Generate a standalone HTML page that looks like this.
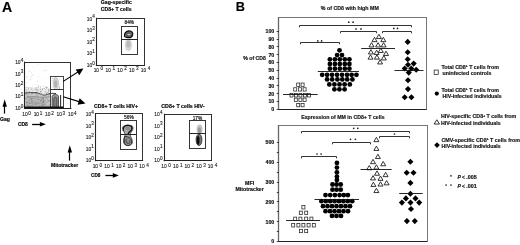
<!DOCTYPE html>
<html><head><meta charset="utf-8"><style>
html,body{margin:0;padding:0;background:#fff;width:520px;height:245px;overflow:hidden}
svg{display:block;will-change:transform;filter:blur(0.3px)}
text{font-family:"Liberation Sans", sans-serif}
text[font-weight=bold]{stroke:#111;stroke-width:0.16px}
</style></head><body>
<svg width="520" height="245" viewBox="0 0 520 245">
<rect width="520" height="245" fill="#fff"/>
<text x="2.0" y="12.2" font-size="14.2" font-weight="bold" textLength="10.2" lengthAdjust="spacingAndGlyphs" fill="#000">A</text>
<text x="235.8" y="11.1" font-size="13.0" font-weight="bold" textLength="9.2" lengthAdjust="spacingAndGlyphs" fill="#000">B</text>
<defs><radialGradient id="g1" cx="0.5" cy="0.5" r="0.5"><stop offset="0" stop-color="#777"/><stop offset="1" stop-color="#fff" stop-opacity="0"/></radialGradient><radialGradient id="g2" cx="0.5" cy="0.5" r="0.5"><stop offset="0" stop-color="#aaa"/><stop offset="1" stop-color="#fff" stop-opacity="0"/></radialGradient><linearGradient id="band" x1="0" y1="0" x2="0" y2="1"><stop offset="0" stop-color="#fff"/><stop offset="0.35" stop-color="#ccc"/><stop offset="1" stop-color="#999"/></linearGradient></defs>
<defs><filter id="bl" x="-20%" y="-20%" width="140%" height="140%"><feGaussianBlur stdDeviation="0.45"/></filter><filter id="bl2" x="-20%" y="-20%" width="140%" height="140%"><feGaussianBlur stdDeviation="0.9"/></filter></defs>
<g filter="url(#bl)">
<path d="M24.5 87.5 C30 87, 38 87.5, 46 88.5 L50.5 89 L50.5 108.5 L24.5 108.5 Z" fill="#ebebeb"/>
<path d="M24.5 93 C29 92.6, 33 92.4, 36 92.6 C39 93, 42 95, 44.2 95.2 C46.5 95.2, 48.5 93.6, 50.5 93.4 L50.5 108.5 L24.5 108.5 Z" fill="#c8c8c8"/>
<path d="M26 98 C30 96.5, 36 96.5, 40 97.5 C43 98.5, 45 100, 47 102 L47 106 L26 106 Z" fill="#b4b4b4"/>
<path d="M24.5 93 C29 92.6, 33 92.4, 36 92.6 C39 93, 42 95, 44.2 95.2 C46.5 95.2, 48.5 93.6, 50.5 93.4 C52 93.3, 54 93.6, 56 93.5" stroke="#333" stroke-width="0.9" fill="none"/>
<path d="M26.5 97.5 C31 96.3, 36 96.3, 40 97.2 C42 97.8, 43.5 98.5, 44.5 99" stroke="#777" stroke-width="0.6" fill="none"/>
<path d="M44.2 95.6 L49.5 101.5" stroke="#777" stroke-width="0.6"/>
<path d="M27 103 C32 102, 38 102.5, 44 104" stroke="#999" stroke-width="0.6" fill="none"/>
<g><circle cx="33.4" cy="67.3" r="0.36" fill="#ddd"/><circle cx="45.6" cy="66.1" r="0.36" fill="#ddd"/><circle cx="37.9" cy="64.8" r="0.43" fill="#bbb"/><circle cx="31.4" cy="76.1" r="0.52" fill="#ccc"/><circle cx="28.5" cy="68.9" r="0.47" fill="#ddd"/><circle cx="27.0" cy="76.9" r="0.55" fill="#ccc"/><circle cx="26.6" cy="82.9" r="0.43" fill="#bbb"/><circle cx="38.7" cy="76.6" r="0.51" fill="#ddd"/><circle cx="29.9" cy="76.8" r="0.39" fill="#ddd"/><circle cx="27.9" cy="79.7" r="0.36" fill="#ddd"/><circle cx="30.5" cy="79.0" r="0.51" fill="#bbb"/><circle cx="36.9" cy="84.3" r="0.41" fill="#bbb"/><circle cx="45.0" cy="79.4" r="0.37" fill="#ccc"/><circle cx="32.9" cy="74.9" r="0.50" fill="#bbb"/><circle cx="32.6" cy="85.6" r="0.45" fill="#ccc"/><circle cx="29.5" cy="71.5" r="0.43" fill="#bbb"/><circle cx="49.1" cy="65.7" r="0.46" fill="#ddd"/><circle cx="46.9" cy="70.9" r="0.42" fill="#ddd"/><circle cx="37.7" cy="81.5" r="0.52" fill="#ccc"/><circle cx="48.6" cy="74.4" r="0.36" fill="#ddd"/><circle cx="43.4" cy="70.8" r="0.55" fill="#ddd"/><circle cx="45.6" cy="70.3" r="0.53" fill="#bbb"/><circle cx="34.0" cy="84.7" r="0.38" fill="#bbb"/><circle cx="28.4" cy="65.3" r="0.38" fill="#bbb"/><circle cx="31.6" cy="72.6" r="0.37" fill="#bbb"/><circle cx="36.5" cy="89.8" r="0.51" fill="#999"/><circle cx="46.7" cy="87.9" r="0.55" fill="#888"/><circle cx="42.2" cy="88.7" r="0.38" fill="#999"/><circle cx="29.8" cy="87.6" r="0.35" fill="#999"/><circle cx="45.9" cy="87.3" r="0.35" fill="#bbb"/><circle cx="35.8" cy="88.6" r="0.54" fill="#bbb"/><circle cx="42.4" cy="89.6" r="0.44" fill="#aaa"/><circle cx="46.8" cy="92.7" r="0.43" fill="#888"/><circle cx="35.2" cy="89.4" r="0.36" fill="#888"/><circle cx="27.2" cy="87.5" r="0.37" fill="#999"/><circle cx="40.2" cy="86.7" r="0.46" fill="#999"/><circle cx="48.7" cy="90.3" r="0.52" fill="#aaa"/><circle cx="40.5" cy="87.0" r="0.54" fill="#bbb"/><circle cx="40.3" cy="89.3" r="0.52" fill="#aaa"/><circle cx="49.8" cy="89.3" r="0.41" fill="#888"/><circle cx="29.0" cy="91.2" r="0.45" fill="#bbb"/><circle cx="42.5" cy="89.6" r="0.54" fill="#999"/><circle cx="38.4" cy="87.0" r="0.50" fill="#aaa"/><circle cx="32.8" cy="90.5" r="0.49" fill="#aaa"/><circle cx="31.9" cy="88.6" r="0.42" fill="#999"/><circle cx="31.0" cy="89.8" r="0.48" fill="#bbb"/><circle cx="40.5" cy="91.5" r="0.51" fill="#999"/><circle cx="45.5" cy="91.2" r="0.39" fill="#999"/><circle cx="37.6" cy="91.1" r="0.51" fill="#aaa"/><circle cx="37.1" cy="87.4" r="0.44" fill="#bbb"/><circle cx="48.5" cy="92.9" r="0.37" fill="#bbb"/><circle cx="28.0" cy="89.3" r="0.39" fill="#bbb"/><circle cx="40.8" cy="92.3" r="0.45" fill="#aaa"/><circle cx="41.5" cy="91.6" r="0.52" fill="#aaa"/><circle cx="28.4" cy="88.7" r="0.45" fill="#999"/><circle cx="29.9" cy="91.5" r="0.37" fill="#bbb"/><circle cx="48.7" cy="91.1" r="0.43" fill="#888"/><circle cx="48.7" cy="91.1" r="0.55" fill="#999"/><circle cx="26.2" cy="90.1" r="0.51" fill="#888"/><circle cx="29.1" cy="91.8" r="0.48" fill="#888"/><circle cx="34.1" cy="89.8" r="0.35" fill="#999"/><circle cx="45.1" cy="91.1" r="0.46" fill="#aaa"/><circle cx="48.4" cy="89.0" r="0.52" fill="#999"/><circle cx="30.7" cy="87.8" r="0.45" fill="#bbb"/><circle cx="44.2" cy="88.3" r="0.52" fill="#888"/><circle cx="27.0" cy="91.2" r="0.48" fill="#888"/><circle cx="45.5" cy="89.6" r="0.46" fill="#999"/><circle cx="38.3" cy="86.1" r="0.51" fill="#888"/><circle cx="40.4" cy="91.4" r="0.38" fill="#999"/><circle cx="37.1" cy="91.1" r="0.42" fill="#aaa"/><circle cx="38.2" cy="89.9" r="0.53" fill="#aaa"/><circle cx="26.9" cy="87.3" r="0.50" fill="#aaa"/><circle cx="37.9" cy="89.9" r="0.44" fill="#aaa"/><circle cx="40.5" cy="89.5" r="0.49" fill="#999"/><circle cx="36.6" cy="89.7" r="0.45" fill="#888"/><circle cx="31.6" cy="89.7" r="0.53" fill="#bbb"/><circle cx="47.4" cy="87.4" r="0.38" fill="#888"/><circle cx="28.5" cy="89.1" r="0.48" fill="#aaa"/><circle cx="36.0" cy="87.5" r="0.51" fill="#bbb"/><circle cx="47.5" cy="87.1" r="0.38" fill="#bbb"/><circle cx="47.1" cy="92.8" r="0.50" fill="#999"/><circle cx="27.8" cy="92.2" r="0.55" fill="#999"/><circle cx="45.9" cy="87.1" r="0.55" fill="#888"/><circle cx="35.4" cy="88.9" r="0.41" fill="#bbb"/><circle cx="43.2" cy="86.1" r="0.44" fill="#888"/><circle cx="25.9" cy="97.6" r="0.41" fill="#aaa"/><circle cx="49.0" cy="94.6" r="0.54" fill="#888"/><circle cx="28.1" cy="96.7" r="0.53" fill="#777"/><circle cx="29.9" cy="103.6" r="0.52" fill="#666"/><circle cx="42.1" cy="106.2" r="0.38" fill="#666"/><circle cx="48.0" cy="101.0" r="0.37" fill="#999"/><circle cx="26.9" cy="102.6" r="0.53" fill="#666"/><circle cx="32.1" cy="93.2" r="0.51" fill="#777"/><circle cx="27.6" cy="105.0" r="0.40" fill="#777"/><circle cx="28.5" cy="93.2" r="0.43" fill="#aaa"/><circle cx="47.9" cy="101.7" r="0.46" fill="#777"/><circle cx="31.3" cy="94.5" r="0.40" fill="#888"/><circle cx="29.9" cy="106.1" r="0.46" fill="#999"/><circle cx="30.5" cy="99.2" r="0.40" fill="#888"/><circle cx="45.2" cy="106.9" r="0.35" fill="#777"/><circle cx="43.5" cy="100.7" r="0.45" fill="#888"/><circle cx="31.5" cy="99.3" r="0.48" fill="#666"/><circle cx="38.9" cy="105.4" r="0.41" fill="#aaa"/><circle cx="30.8" cy="96.2" r="0.52" fill="#888"/><circle cx="42.8" cy="101.9" r="0.55" fill="#666"/><circle cx="49.6" cy="104.7" r="0.36" fill="#777"/><circle cx="43.7" cy="96.6" r="0.36" fill="#888"/><circle cx="41.8" cy="98.3" r="0.48" fill="#aaa"/><circle cx="32.4" cy="96.4" r="0.36" fill="#999"/><circle cx="30.0" cy="96.8" r="0.40" fill="#777"/><circle cx="49.1" cy="106.6" r="0.41" fill="#aaa"/><circle cx="26.3" cy="105.4" r="0.42" fill="#888"/><circle cx="25.5" cy="98.3" r="0.41" fill="#666"/><circle cx="41.6" cy="96.5" r="0.37" fill="#777"/><circle cx="45.5" cy="95.0" r="0.36" fill="#aaa"/><circle cx="26.1" cy="97.3" r="0.37" fill="#888"/><circle cx="49.0" cy="104.9" r="0.48" fill="#888"/><circle cx="43.0" cy="105.3" r="0.50" fill="#666"/><circle cx="43.2" cy="99.9" r="0.49" fill="#999"/><circle cx="41.3" cy="93.6" r="0.48" fill="#aaa"/><circle cx="43.5" cy="104.4" r="0.53" fill="#888"/><circle cx="43.9" cy="101.0" r="0.52" fill="#777"/><circle cx="39.8" cy="105.5" r="0.37" fill="#888"/><circle cx="26.5" cy="101.9" r="0.43" fill="#777"/><circle cx="36.6" cy="93.7" r="0.48" fill="#777"/><circle cx="42.2" cy="99.9" r="0.44" fill="#777"/><circle cx="27.2" cy="106.1" r="0.37" fill="#aaa"/><circle cx="38.4" cy="103.4" r="0.40" fill="#666"/><circle cx="27.3" cy="96.7" r="0.40" fill="#888"/><circle cx="41.4" cy="99.4" r="0.37" fill="#666"/><circle cx="47.8" cy="97.0" r="0.47" fill="#777"/><circle cx="41.2" cy="94.1" r="0.42" fill="#888"/><circle cx="41.5" cy="102.7" r="0.46" fill="#aaa"/><circle cx="25.8" cy="93.8" r="0.54" fill="#999"/><circle cx="27.9" cy="96.0" r="0.41" fill="#666"/><circle cx="38.2" cy="99.5" r="0.50" fill="#666"/><circle cx="49.8" cy="100.7" r="0.55" fill="#999"/><circle cx="48.4" cy="93.2" r="0.37" fill="#666"/><circle cx="37.9" cy="106.9" r="0.43" fill="#999"/><circle cx="48.0" cy="106.0" r="0.47" fill="#777"/><circle cx="29.0" cy="100.3" r="0.38" fill="#999"/><circle cx="45.6" cy="100.1" r="0.49" fill="#777"/><circle cx="31.2" cy="105.6" r="0.43" fill="#666"/><circle cx="29.4" cy="106.3" r="0.43" fill="#666"/><circle cx="43.3" cy="98.8" r="0.41" fill="#666"/><circle cx="46.1" cy="93.0" r="0.52" fill="#999"/><circle cx="28.4" cy="106.0" r="0.53" fill="#777"/><circle cx="32.6" cy="98.2" r="0.43" fill="#666"/><circle cx="46.8" cy="94.1" r="0.50" fill="#666"/><circle cx="46.4" cy="96.9" r="0.52" fill="#777"/><circle cx="32.5" cy="106.1" r="0.54" fill="#888"/><circle cx="36.2" cy="97.4" r="0.51" fill="#999"/><circle cx="36.0" cy="93.4" r="0.53" fill="#666"/><circle cx="48.5" cy="100.7" r="0.36" fill="#777"/><circle cx="43.4" cy="99.3" r="0.48" fill="#888"/><circle cx="32.5" cy="93.7" r="0.38" fill="#aaa"/><circle cx="37.1" cy="97.8" r="0.40" fill="#999"/><circle cx="43.6" cy="102.1" r="0.48" fill="#666"/><circle cx="32.9" cy="100.8" r="0.37" fill="#666"/><circle cx="41.3" cy="94.1" r="0.53" fill="#aaa"/><circle cx="37.7" cy="96.1" r="0.55" fill="#999"/><circle cx="36.5" cy="95.0" r="0.40" fill="#888"/><circle cx="29.8" cy="100.8" r="0.40" fill="#999"/><circle cx="31.8" cy="101.0" r="0.50" fill="#777"/><circle cx="35.6" cy="98.8" r="0.39" fill="#aaa"/><circle cx="32.1" cy="103.5" r="0.41" fill="#666"/><circle cx="49.2" cy="94.8" r="0.46" fill="#aaa"/><circle cx="44.9" cy="104.9" r="0.40" fill="#777"/><circle cx="31.6" cy="98.6" r="0.44" fill="#666"/><circle cx="33.1" cy="104.4" r="0.38" fill="#777"/><circle cx="35.9" cy="103.7" r="0.54" fill="#666"/><circle cx="37.5" cy="94.0" r="0.52" fill="#aaa"/><circle cx="49.3" cy="96.5" r="0.39" fill="#777"/><circle cx="29.2" cy="106.6" r="0.54" fill="#777"/><circle cx="43.2" cy="102.1" r="0.37" fill="#666"/><circle cx="44.5" cy="93.0" r="0.40" fill="#888"/><circle cx="48.0" cy="102.0" r="0.54" fill="#999"/><circle cx="40.8" cy="100.4" r="0.49" fill="#666"/><circle cx="28.2" cy="94.0" r="0.54" fill="#aaa"/><circle cx="30.2" cy="96.7" r="0.35" fill="#aaa"/><circle cx="38.7" cy="106.9" r="0.54" fill="#999"/><circle cx="41.3" cy="105.4" r="0.46" fill="#666"/><circle cx="38.9" cy="93.4" r="0.49" fill="#666"/><circle cx="33.0" cy="93.3" r="0.53" fill="#666"/><circle cx="41.4" cy="94.1" r="0.48" fill="#888"/><circle cx="48.2" cy="96.2" r="0.49" fill="#777"/><circle cx="43.1" cy="98.1" r="0.39" fill="#666"/><circle cx="45.0" cy="103.3" r="0.36" fill="#aaa"/><circle cx="37.6" cy="95.8" r="0.40" fill="#888"/><circle cx="30.9" cy="103.6" r="0.37" fill="#999"/><circle cx="40.8" cy="101.5" r="0.45" fill="#888"/><circle cx="47.8" cy="93.8" r="0.38" fill="#aaa"/><circle cx="35.1" cy="96.0" r="0.38" fill="#aaa"/><circle cx="26.8" cy="93.8" r="0.44" fill="#666"/><circle cx="42.9" cy="97.4" r="0.55" fill="#777"/><circle cx="48.3" cy="97.6" r="0.48" fill="#888"/><circle cx="38.4" cy="99.5" r="0.48" fill="#999"/><circle cx="34.8" cy="98.2" r="0.44" fill="#999"/><circle cx="28.2" cy="94.1" r="0.42" fill="#777"/><circle cx="48.9" cy="94.7" r="0.43" fill="#888"/><circle cx="44.3" cy="97.3" r="0.37" fill="#666"/><circle cx="42.8" cy="95.7" r="0.53" fill="#aaa"/><circle cx="30.2" cy="98.1" r="0.36" fill="#666"/><circle cx="35.6" cy="104.4" r="0.36" fill="#666"/><circle cx="26.4" cy="93.9" r="0.40" fill="#777"/><circle cx="58.0" cy="87.8" r="0.42" fill="#aaa"/><circle cx="54.7" cy="88.4" r="0.40" fill="#999"/><circle cx="57.7" cy="80.8" r="0.41" fill="#aaa"/><circle cx="57.8" cy="84.1" r="0.54" fill="#888"/><circle cx="52.5" cy="86.9" r="0.45" fill="#999"/><circle cx="59.7" cy="88.4" r="0.51" fill="#aaa"/><circle cx="59.3" cy="86.8" r="0.54" fill="#999"/><circle cx="53.5" cy="86.6" r="0.41" fill="#888"/><circle cx="57.5" cy="78.8" r="0.42" fill="#999"/><circle cx="54.6" cy="81.3" r="0.37" fill="#888"/><circle cx="53.6" cy="86.0" r="0.43" fill="#999"/><circle cx="57.2" cy="82.8" r="0.42" fill="#888"/><circle cx="59.8" cy="87.6" r="0.40" fill="#999"/><circle cx="52.7" cy="78.2" r="0.55" fill="#aaa"/><circle cx="59.8" cy="79.1" r="0.43" fill="#999"/><circle cx="57.0" cy="85.1" r="0.46" fill="#888"/><circle cx="58.2" cy="86.1" r="0.41" fill="#aaa"/><circle cx="56.5" cy="81.5" r="0.40" fill="#888"/><circle cx="55.5" cy="79.2" r="0.38" fill="#999"/><circle cx="59.1" cy="83.9" r="0.36" fill="#aaa"/><circle cx="54.0" cy="80.0" r="0.40" fill="#888"/><circle cx="58.5" cy="84.8" r="0.37" fill="#999"/><circle cx="55.8" cy="86.8" r="0.53" fill="#aaa"/><circle cx="52.3" cy="80.5" r="0.36" fill="#999"/><circle cx="56.8" cy="86.9" r="0.54" fill="#999"/><circle cx="55.0" cy="87.4" r="0.47" fill="#aaa"/><circle cx="58.2" cy="85.0" r="0.37" fill="#999"/><circle cx="56.8" cy="84.4" r="0.36" fill="#999"/><circle cx="54.7" cy="77.5" r="0.36" fill="#aaa"/><circle cx="57.9" cy="88.0" r="0.51" fill="#999"/></g>
<ellipse cx="55.8" cy="83" rx="3.2" ry="6" fill="#cfcfcf"/>
<ellipse cx="55.6" cy="84" rx="1.5" ry="3.5" fill="#b0b0b0"/>
<path d="M52.1 108 L52.1 97 C52.1 95.2, 53.3 94.6, 55.3 94.6 C57.3 94.6, 58.5 95.2, 58.5 97 L58.5 108 Z" stroke="#333" stroke-width="0.8" fill="#a0a0a0"/>
<path d="M53.8 108 L53.8 99 C53.8 97.5, 54.5 97, 55.3 97 C56.2 97, 56.9 97.5, 56.9 99 L56.9 108" stroke="#333" stroke-width="0.7" fill="#808080"/>
<line x1="60.6" y1="95" x2="60.6" y2="108" stroke="#222" stroke-width="1"/>
</g>
<text x="19.2" y="109.89999999999999" font-size="4.9" text-anchor="middle" fill="#111" stroke="#333" stroke-width="0.12">10<tspan dx="0.1" dy="-2.4" font-size="4.655">0</tspan></text>
<text x="19.2" y="98.49862499999999" font-size="4.9" text-anchor="middle" fill="#111" stroke="#333" stroke-width="0.12">10<tspan dx="0.1" dy="-2.4" font-size="4.655">1</tspan></text>
<text x="19.2" y="87.09724999999999" font-size="4.9" text-anchor="middle" fill="#111" stroke="#333" stroke-width="0.12">10<tspan dx="0.1" dy="-2.4" font-size="4.655">2</tspan></text>
<text x="19.2" y="75.695875" font-size="4.9" text-anchor="middle" fill="#111" stroke="#333" stroke-width="0.12">10<tspan dx="0.1" dy="-2.4" font-size="4.655">3</tspan></text>
<text x="19.2" y="64.2945" font-size="4.9" text-anchor="middle" fill="#111" stroke="#333" stroke-width="0.12">10<tspan dx="0.1" dy="-2.4" font-size="4.655">4</tspan></text>
<text x="26.5" y="116.1" font-size="4.9" text-anchor="middle" fill="#111" stroke="#333" stroke-width="0.12">10<tspan dx="0.6" dy="-1.2" font-size="4.655">0</tspan></text>
<text x="37.950625" y="116.1" font-size="4.9" text-anchor="middle" fill="#111" stroke="#333" stroke-width="0.12">10<tspan dx="0.6" dy="-1.2" font-size="4.655">1</tspan></text>
<text x="49.401250000000005" y="116.1" font-size="4.9" text-anchor="middle" fill="#111" stroke="#333" stroke-width="0.12">10<tspan dx="0.6" dy="-1.2" font-size="4.655">2</tspan></text>
<text x="60.851875" y="116.1" font-size="4.9" text-anchor="middle" fill="#111" stroke="#333" stroke-width="0.12">10<tspan dx="0.6" dy="-1.2" font-size="4.655">3</tspan></text>
<text x="72.30250000000001" y="116.1" font-size="4.9" text-anchor="middle" fill="#111" stroke="#333" stroke-width="0.12">10<tspan dx="0.6" dy="-1.2" font-size="4.655">4</tspan></text>
<rect x="24.5" y="62.5" width="46.0" height="46.0" stroke="#333" stroke-width="1.0" fill="none"/>
<line x1="24.5" y1="61.6" x2="24.5" y2="108.8" stroke="#222" stroke-width="1.1"/>
<line x1="24.0" y1="108.5" x2="71.4" y2="108.5" stroke="#222" stroke-width="1.1"/>
<rect x="50.5" y="76.5" width="13.0" height="13.0" stroke="#333" stroke-width="0.9" fill="none"/>
<rect x="50.5" y="89.5" width="13.0" height="19.0" stroke="#333" stroke-width="0.9" fill="none"/>
<line x1="24.5" y1="107.6" x2="63.5" y2="107.6" stroke="#111" stroke-width="2.0"/>
<line x1="63.2" y1="81.4" x2="77.92179084696335" y2="71.99846030070162" stroke="#000" stroke-width="1.1"/>
<path d="M83.40 68.50 L79.33 75.13 L75.67 69.40 Z" fill="#000"/>
<line x1="63.2" y1="96.8" x2="79.09133004906724" y2="101.6457867414196" stroke="#000" stroke-width="1.1"/>
<path d="M85.50 103.60 L77.59 104.85 L79.63 98.15 Z" fill="#000"/>
<line x1="4.5" y1="113.6" x2="4.5" y2="106.3" stroke="#000" stroke-width="1.2"/>
<path d="M4.70 99.30 L6.90 106.80 L2.50 106.80 Z" fill="#000"/>
<text x="0" y="121.3" font-size="4.9" font-weight="bold" textLength="10" lengthAdjust="spacingAndGlyphs" fill="#000">Gag</text>
<text x="17.9" y="126.1" font-size="4.9" font-weight="bold" textLength="10" lengthAdjust="spacingAndGlyphs" fill="#000">CD8</text>
<line x1="32.1" y1="124.5" x2="40.4" y2="124.5" stroke="#000" stroke-width="1.3"/>
<path d="M45.90 124.30 L39.90 126.60 L39.90 122.00 Z" fill="#000"/>
<text x="100.8" y="4.4" font-size="4.9" font-weight="bold" textLength="31.0" lengthAdjust="spacingAndGlyphs" fill="#000">Gag-specific</text>
<text x="100.8" y="10.5" font-size="4.9" font-weight="bold" textLength="30.7" lengthAdjust="spacingAndGlyphs" fill="#000">CD8+ T cells</text>
<text x="90.8" y="66.89999999999999" font-size="4.9" text-anchor="middle" fill="#111" stroke="#333" stroke-width="0.12">10<tspan dx="0.1" dy="-2.4" font-size="4.655">0</tspan></text>
<text x="90.8" y="55.301625" font-size="4.9" text-anchor="middle" fill="#111" stroke="#333" stroke-width="0.12">10<tspan dx="0.1" dy="-2.4" font-size="4.655">1</tspan></text>
<text x="90.8" y="43.703250000000004" font-size="4.9" text-anchor="middle" fill="#111" stroke="#333" stroke-width="0.12">10<tspan dx="0.1" dy="-2.4" font-size="4.655">2</tspan></text>
<text x="90.8" y="32.104875" font-size="4.9" text-anchor="middle" fill="#111" stroke="#333" stroke-width="0.12">10<tspan dx="0.1" dy="-2.4" font-size="4.655">3</tspan></text>
<text x="90.8" y="20.506500000000003" font-size="4.9" text-anchor="middle" fill="#111" stroke="#333" stroke-width="0.12">10<tspan dx="0.1" dy="-2.4" font-size="4.655">4</tspan></text>
<text x="98.4" y="71.6" font-size="4.9" text-anchor="middle" fill="#111" stroke="#333" stroke-width="0.12">10<tspan dx="1.5" dy="-1.2" font-size="4.655">0</tspan></text>
<text x="110.19537500000001" y="71.6" font-size="4.9" text-anchor="middle" fill="#111" stroke="#333" stroke-width="0.12">10<tspan dx="1.5" dy="-1.2" font-size="4.655">1</tspan></text>
<text x="121.99075" y="71.6" font-size="4.9" text-anchor="middle" fill="#111" stroke="#333" stroke-width="0.12">10<tspan dx="1.5" dy="-1.2" font-size="4.655">2</tspan></text>
<text x="133.78612500000003" y="71.6" font-size="4.9" text-anchor="middle" fill="#111" stroke="#333" stroke-width="0.12">10<tspan dx="1.5" dy="-1.2" font-size="4.655">3</tspan></text>
<text x="145.5815" y="71.6" font-size="4.9" text-anchor="middle" fill="#111" stroke="#333" stroke-width="0.12">10<tspan dx="1.5" dy="-1.2" font-size="4.655">4</tspan></text>
<rect x="96.5" y="18.5" width="48.0" height="47.0" stroke="#333" stroke-width="1.0" fill="none"/>
<line x1="96.5" y1="17.8" x2="96.5" y2="65.8" stroke="#222" stroke-width="1.1"/>
<line x1="95.9" y1="65.5" x2="144.70000000000002" y2="65.5" stroke="#222" stroke-width="1.1"/>
<g filter="url(#bl)">
<ellipse cx="128.4" cy="45" rx="3.6" ry="6" fill="#d4d4d4"/>
<ellipse cx="128.4" cy="44" rx="2" ry="3.5" fill="#bbb"/>
<path d="M124.5 36.5 C123.8 33.5, 126 30.8, 129 30.8 C132 30.8, 133.2 32.8, 132.6 35 C132 37, 130 38, 128 37.6 C126.4 37.3, 125.2 37.6, 124.5 36.5 Z" fill="#666" stroke="#111" stroke-width="1.2"/>
<ellipse cx="129" cy="34.6" rx="2.1" ry="1.3" fill="#ccc" stroke="#222" stroke-width="0.6"/>
</g>
<rect x="121.5" y="26.5" width="16.0" height="13.0" stroke="#222" stroke-width="0.9" fill="none"/>
<rect x="121.5" y="39.5" width="16.0" height="15.0" stroke="#222" stroke-width="0.9" fill="none"/>
<text x="129.3" y="24.0" font-size="4.8" text-anchor="middle" fill="#111" stroke="#222" stroke-width="0.2">84%</text>
<text x="94.1" y="108.0" font-size="5.1" font-weight="bold" textLength="43.9" lengthAdjust="spacingAndGlyphs" fill="#000">CD8+ T cells HIV+</text>
<text x="89.8" y="162.29999999999998" font-size="4.9" text-anchor="middle" fill="#111" stroke="#333" stroke-width="0.12">10<tspan dx="0.1" dy="-2.4" font-size="4.655">0</tspan></text>
<text x="89.8" y="150.72625" font-size="4.9" text-anchor="middle" fill="#111" stroke="#333" stroke-width="0.12">10<tspan dx="0.1" dy="-2.4" font-size="4.655">1</tspan></text>
<text x="89.8" y="139.1525" font-size="4.9" text-anchor="middle" fill="#111" stroke="#333" stroke-width="0.12">10<tspan dx="0.1" dy="-2.4" font-size="4.655">2</tspan></text>
<text x="89.8" y="127.57874999999999" font-size="4.9" text-anchor="middle" fill="#111" stroke="#333" stroke-width="0.12">10<tspan dx="0.1" dy="-2.4" font-size="4.655">3</tspan></text>
<text x="89.8" y="116.005" font-size="4.9" text-anchor="middle" fill="#111" stroke="#333" stroke-width="0.12">10<tspan dx="0.1" dy="-2.4" font-size="4.655">4</tspan></text>
<text x="97.4" y="167.79999999999998" font-size="4.9" text-anchor="middle" fill="#111" stroke="#333" stroke-width="0.12">10<tspan dx="1.5" dy="-1.2" font-size="4.655">0</tspan></text>
<text x="109.047625" y="167.79999999999998" font-size="4.9" text-anchor="middle" fill="#111" stroke="#333" stroke-width="0.12">10<tspan dx="1.5" dy="-1.2" font-size="4.655">1</tspan></text>
<text x="120.69525" y="167.79999999999998" font-size="4.9" text-anchor="middle" fill="#111" stroke="#333" stroke-width="0.12">10<tspan dx="1.5" dy="-1.2" font-size="4.655">2</tspan></text>
<text x="132.342875" y="167.79999999999998" font-size="4.9" text-anchor="middle" fill="#111" stroke="#333" stroke-width="0.12">10<tspan dx="1.5" dy="-1.2" font-size="4.655">3</tspan></text>
<text x="143.9905" y="167.79999999999998" font-size="4.9" text-anchor="middle" fill="#111" stroke="#333" stroke-width="0.12">10<tspan dx="1.5" dy="-1.2" font-size="4.655">4</tspan></text>
<rect x="95.5" y="113.5" width="47.0" height="47.0" stroke="#333" stroke-width="1.0" fill="none"/>
<line x1="95.5" y1="113.3" x2="95.5" y2="161.2" stroke="#222" stroke-width="1.1"/>
<line x1="94.9" y1="160.5" x2="143.1" y2="160.5" stroke="#222" stroke-width="1.1"/>
<g filter="url(#bl)">
<path d="M122.6 128 C122.3 124.5, 132.5 124, 133 127.5 C133.5 131, 129.8 132, 130.2 135 C130.6 137.5, 133 139.5, 132.2 143 C131.3 146.3, 124.2 146.5, 123.6 142.5 C123.1 139, 125.6 136.2, 124.8 133.5 C124.2 131.5, 122.8 130.5, 122.6 128 Z" fill="#a8a8a8" stroke="#333" stroke-width="0.8"/>
<ellipse cx="127.8" cy="128.3" rx="2.6" ry="1.7" fill="#8a8a8a"/>
<path d="M123.4 130.8 C122.4 127.2, 125 125.2, 128 125.3 C131.4 125.4, 132.6 127.4, 131.6 129.6 C130.6 131.4, 128.6 131.8, 128.1 134.2" fill="none" stroke="#111" stroke-width="1.3"/>
<path d="M124.6 136.5 C123.8 139.5, 123.8 143.2, 125.8 144.9 C128.3 146.6, 131.6 145.2, 131.7 142.2 C131.8 139.6, 130 137.4, 127.6 136.9 C126.4 136.7, 125.2 136.4, 124.6 136.5 Z" fill="#8c8c8c" stroke="#222" stroke-width="0.9"/>
<path d="M126.2 139 C125.4 141, 126.2 143.6, 128.4 143.6 C129.8 143.6, 130.2 142, 129.6 140.6" fill="none" stroke="#333" stroke-width="0.8"/>
</g>
<rect x="120.5" y="120.5" width="16.0" height="14.0" stroke="#222" stroke-width="0.9" fill="none"/>
<rect x="120.5" y="134.5" width="16.0" height="15.0" stroke="#222" stroke-width="0.9" fill="none"/>
<text x="128.9" y="119.2" font-size="4.8" text-anchor="middle" fill="#111" stroke="#222" stroke-width="0.2">56%</text>
<text x="161.3" y="108.1" font-size="5.1" font-weight="bold" textLength="43.2" lengthAdjust="spacingAndGlyphs" fill="#000">CD8+ T cells HIV-</text>
<text x="158.4" y="162.29999999999998" font-size="4.9" text-anchor="middle" fill="#111" stroke="#333" stroke-width="0.12">10<tspan dx="0.1" dy="-2.4" font-size="4.655">0</tspan></text>
<text x="158.4" y="150.82475" font-size="4.9" text-anchor="middle" fill="#111" stroke="#333" stroke-width="0.12">10<tspan dx="0.1" dy="-2.4" font-size="4.655">1</tspan></text>
<text x="158.4" y="139.34949999999998" font-size="4.9" text-anchor="middle" fill="#111" stroke="#333" stroke-width="0.12">10<tspan dx="0.1" dy="-2.4" font-size="4.655">2</tspan></text>
<text x="158.4" y="127.87424999999999" font-size="4.9" text-anchor="middle" fill="#111" stroke="#333" stroke-width="0.12">10<tspan dx="0.1" dy="-2.4" font-size="4.655">3</tspan></text>
<text x="158.4" y="116.39899999999999" font-size="4.9" text-anchor="middle" fill="#111" stroke="#333" stroke-width="0.12">10<tspan dx="0.1" dy="-2.4" font-size="4.655">4</tspan></text>
<text x="166.1" y="167.9" font-size="4.9" text-anchor="middle" fill="#111" stroke="#333" stroke-width="0.12">10<tspan dx="1.5" dy="-1.2" font-size="4.655">0</tspan></text>
<text x="177.723" y="167.9" font-size="4.9" text-anchor="middle" fill="#111" stroke="#333" stroke-width="0.12">10<tspan dx="1.5" dy="-1.2" font-size="4.655">1</tspan></text>
<text x="189.346" y="167.9" font-size="4.9" text-anchor="middle" fill="#111" stroke="#333" stroke-width="0.12">10<tspan dx="1.5" dy="-1.2" font-size="4.655">2</tspan></text>
<text x="200.969" y="167.9" font-size="4.9" text-anchor="middle" fill="#111" stroke="#333" stroke-width="0.12">10<tspan dx="1.5" dy="-1.2" font-size="4.655">3</tspan></text>
<text x="212.592" y="167.9" font-size="4.9" text-anchor="middle" fill="#111" stroke="#333" stroke-width="0.12">10<tspan dx="1.5" dy="-1.2" font-size="4.655">4</tspan></text>
<rect x="164.5" y="114.5" width="47.0" height="46.0" stroke="#333" stroke-width="1.0" fill="none"/>
<line x1="164.5" y1="113.69999999999999" x2="164.5" y2="161.2" stroke="#222" stroke-width="1.1"/>
<line x1="163.6" y1="160.5" x2="211.70000000000002" y2="160.5" stroke="#222" stroke-width="1.1"/>
<g filter="url(#bl)">
<ellipse cx="199.6" cy="129.2" rx="3" ry="4.8" fill="#c4c4c4"/>
<ellipse cx="199.4" cy="130.5" rx="1.6" ry="3.2" fill="#999"/>
<ellipse cx="199" cy="139.8" rx="2.9" ry="5.7" fill="#777" stroke="#222" stroke-width="0.8"/>
<ellipse cx="198.1" cy="140.5" rx="1.4" ry="4.4" fill="#111"/>
</g>
<rect x="189.5" y="120.5" width="16.0" height="13.0" stroke="#222" stroke-width="0.9" fill="none"/>
<rect x="189.5" y="133.5" width="16.0" height="15.0" stroke="#222" stroke-width="0.9" fill="none"/>
<text x="197.5" y="119.6" font-size="4.8" text-anchor="middle" fill="#111" stroke="#222" stroke-width="0.2">17%</text>
<line x1="69.5" y1="160.6" x2="69.5" y2="151.89999999999998" stroke="#000" stroke-width="1.2"/>
<path d="M69.80 145.20 L72.00 152.40 L67.60 152.40 Z" fill="#000"/>
<text x="51.0" y="166.8" font-size="4.9" font-weight="bold" textLength="27.2" lengthAdjust="spacingAndGlyphs" fill="#000">Mitotracker</text>
<text x="91.1" y="177.2" font-size="4.9" font-weight="bold" textLength="9.4" lengthAdjust="spacingAndGlyphs" fill="#000">CD8</text>
<line x1="105.4" y1="175.5" x2="113.3" y2="175.5" stroke="#000" stroke-width="1.3"/>
<path d="M118.80 175.40 L112.80 177.70 L112.80 173.10 Z" fill="#000"/>
<rect x="278.5" y="17.5" width="148.0" height="92.0" stroke="#555" stroke-width="0.8" fill="none"/>
<line x1="278.5" y1="17.5" x2="278.5" y2="109.8" stroke="#666" stroke-width="1.3"/>
<line x1="279.0" y1="109.5" x2="426.5" y2="109.5" stroke="#222" stroke-width="1.0"/>
<line x1="276.6" y1="109.5" x2="279.0" y2="109.5" stroke="#222" stroke-width="0.8"/>
<text x="274.3" y="111.2" font-size="5.3" text-anchor="end" font-weight="bold" fill="#111">0</text>
<line x1="276.6" y1="101.5" x2="279.0" y2="101.5" stroke="#222" stroke-width="0.8"/>
<text x="274.3" y="103.39" font-size="5.3" text-anchor="end" font-weight="bold" fill="#111">10</text>
<line x1="276.6" y1="93.5" x2="279.0" y2="93.5" stroke="#222" stroke-width="0.8"/>
<text x="274.3" y="95.58" font-size="5.3" text-anchor="end" font-weight="bold" fill="#111">20</text>
<line x1="276.6" y1="85.5" x2="279.0" y2="85.5" stroke="#222" stroke-width="0.8"/>
<text x="274.3" y="87.77" font-size="5.3" text-anchor="end" font-weight="bold" fill="#111">30</text>
<line x1="276.6" y1="78.5" x2="279.0" y2="78.5" stroke="#222" stroke-width="0.8"/>
<text x="274.3" y="79.96" font-size="5.3" text-anchor="end" font-weight="bold" fill="#111">40</text>
<line x1="276.6" y1="70.5" x2="279.0" y2="70.5" stroke="#222" stroke-width="0.8"/>
<text x="274.3" y="72.14999999999999" font-size="5.3" text-anchor="end" font-weight="bold" fill="#111">50</text>
<line x1="276.6" y1="62.5" x2="279.0" y2="62.5" stroke="#222" stroke-width="0.8"/>
<text x="274.3" y="64.34" font-size="5.3" text-anchor="end" font-weight="bold" fill="#111">60</text>
<line x1="276.6" y1="54.5" x2="279.0" y2="54.5" stroke="#222" stroke-width="0.8"/>
<text x="274.3" y="56.53" font-size="5.3" text-anchor="end" font-weight="bold" fill="#111">70</text>
<line x1="276.6" y1="46.5" x2="279.0" y2="46.5" stroke="#222" stroke-width="0.8"/>
<text x="274.3" y="48.72" font-size="5.3" text-anchor="end" font-weight="bold" fill="#111">80</text>
<line x1="276.6" y1="39.5" x2="279.0" y2="39.5" stroke="#222" stroke-width="0.8"/>
<text x="274.3" y="40.91" font-size="5.3" text-anchor="end" font-weight="bold" fill="#111">90</text>
<line x1="276.6" y1="31.5" x2="279.0" y2="31.5" stroke="#222" stroke-width="0.8"/>
<text x="274.3" y="33.099999999999994" font-size="5.3" text-anchor="end" font-weight="bold" fill="#111">100</text>
<text x="243.3" y="60.0" font-size="4.9" font-weight="bold" textLength="22.6" lengthAdjust="spacingAndGlyphs" fill="#222">% of CD8</text>
<text x="320.8" y="10.2" font-size="4.9" font-weight="bold" textLength="58.0" lengthAdjust="spacingAndGlyphs" fill="#222">% of CD8 with high MM</text>
<path d="M299.5 27.3 L299.5 25.5 L411.5 25.5 L411.5 27.3" fill="none" stroke="#333" stroke-width="1.0"/>
<circle cx="348.8" cy="22.2" r="0.85" fill="#222"/>
<circle cx="353.1" cy="22.2" r="0.85" fill="#222"/>
<path d="M340.5 33.3 L340.5 31.5 L376.5 31.5 L376.5 33.3" fill="none" stroke="#333" stroke-width="1.0"/>
<circle cx="356.0" cy="28.9" r="0.85" fill="#222"/>
<circle cx="361.0" cy="28.9" r="0.85" fill="#222"/>
<path d="M382.5 33.3 L382.5 31.5 L411.5 31.5 L411.5 33.3" fill="none" stroke="#333" stroke-width="1.0"/>
<circle cx="393.8" cy="28.4" r="0.85" fill="#222"/>
<circle cx="397.5" cy="28.4" r="0.85" fill="#222"/>
<path d="M300.5 44.3 L300.5 42.5 L339.5 42.5 L339.5 44.3" fill="none" stroke="#333" stroke-width="1.0"/>
<circle cx="317.8" cy="40.9" r="0.85" fill="#222"/>
<circle cx="321.6" cy="40.9" r="0.85" fill="#222"/>
<rect x="296.70" y="83.02" width="3.0" height="3.36" fill="#fff" stroke="#222" stroke-width="0.75"/>
<rect x="301.10" y="83.02" width="3.0" height="3.36" fill="#fff" stroke="#222" stroke-width="0.75"/>
<rect x="293.70" y="87.72" width="3.0" height="3.36" fill="#fff" stroke="#222" stroke-width="0.75"/>
<rect x="298.60" y="87.72" width="3.0" height="3.36" fill="#fff" stroke="#222" stroke-width="0.75"/>
<rect x="303.10" y="87.72" width="3.0" height="3.36" fill="#fff" stroke="#222" stroke-width="0.75"/>
<rect x="290.00" y="93.62" width="3.0" height="3.36" fill="#fff" stroke="#222" stroke-width="0.75"/>
<rect x="294.40" y="93.62" width="3.0" height="3.36" fill="#fff" stroke="#222" stroke-width="0.75"/>
<rect x="298.90" y="93.62" width="3.0" height="3.36" fill="#fff" stroke="#222" stroke-width="0.75"/>
<rect x="303.40" y="93.62" width="3.0" height="3.36" fill="#fff" stroke="#222" stroke-width="0.75"/>
<rect x="307.50" y="93.62" width="3.0" height="3.36" fill="#fff" stroke="#222" stroke-width="0.75"/>
<rect x="294.30" y="98.12" width="3.0" height="3.36" fill="#fff" stroke="#222" stroke-width="0.75"/>
<rect x="298.90" y="98.12" width="3.0" height="3.36" fill="#fff" stroke="#222" stroke-width="0.75"/>
<rect x="303.10" y="98.12" width="3.0" height="3.36" fill="#fff" stroke="#222" stroke-width="0.75"/>
<rect x="296.70" y="103.42" width="3.0" height="3.36" fill="#fff" stroke="#222" stroke-width="0.75"/>
<rect x="301.10" y="103.42" width="3.0" height="3.36" fill="#fff" stroke="#222" stroke-width="0.75"/>
<line x1="283.0" y1="94.5" x2="317.7" y2="94.5" stroke="#111" stroke-width="0.9"/>
<circle cx="339.50" cy="50.30" r="2.4" fill="#000"/>
<circle cx="337.10" cy="55.10" r="2.4" fill="#000"/>
<circle cx="342.00" cy="55.10" r="2.4" fill="#000"/>
<circle cx="329.90" cy="59.30" r="2.4" fill="#000"/>
<circle cx="334.90" cy="59.30" r="2.4" fill="#000"/>
<circle cx="339.80" cy="59.30" r="2.4" fill="#000"/>
<circle cx="344.80" cy="59.30" r="2.4" fill="#000"/>
<circle cx="349.40" cy="59.30" r="2.4" fill="#000"/>
<circle cx="329.90" cy="64.00" r="2.4" fill="#000"/>
<circle cx="334.90" cy="64.00" r="2.4" fill="#000"/>
<circle cx="339.80" cy="64.00" r="2.4" fill="#000"/>
<circle cx="344.80" cy="64.00" r="2.4" fill="#000"/>
<circle cx="349.40" cy="64.00" r="2.4" fill="#000"/>
<circle cx="329.90" cy="68.70" r="2.4" fill="#000"/>
<circle cx="334.90" cy="68.70" r="2.4" fill="#000"/>
<circle cx="339.80" cy="68.70" r="2.4" fill="#000"/>
<circle cx="344.80" cy="68.70" r="2.4" fill="#000"/>
<circle cx="349.40" cy="68.70" r="2.4" fill="#000"/>
<circle cx="322.20" cy="74.80" r="2.4" fill="#000"/>
<circle cx="327.10" cy="74.80" r="2.4" fill="#000"/>
<circle cx="332.00" cy="74.80" r="2.4" fill="#000"/>
<circle cx="337.00" cy="74.80" r="2.4" fill="#000"/>
<circle cx="342.00" cy="74.80" r="2.4" fill="#000"/>
<circle cx="347.00" cy="74.80" r="2.4" fill="#000"/>
<circle cx="351.60" cy="74.80" r="2.4" fill="#000"/>
<circle cx="356.40" cy="74.80" r="2.4" fill="#000"/>
<circle cx="327.10" cy="79.40" r="2.4" fill="#000"/>
<circle cx="332.20" cy="79.40" r="2.4" fill="#000"/>
<circle cx="337.40" cy="79.40" r="2.4" fill="#000"/>
<circle cx="342.30" cy="79.40" r="2.4" fill="#000"/>
<circle cx="347.20" cy="79.40" r="2.4" fill="#000"/>
<circle cx="352.40" cy="79.40" r="2.4" fill="#000"/>
<circle cx="329.30" cy="84.40" r="2.4" fill="#000"/>
<circle cx="334.40" cy="84.40" r="2.4" fill="#000"/>
<circle cx="339.50" cy="84.40" r="2.4" fill="#000"/>
<circle cx="344.60" cy="84.40" r="2.4" fill="#000"/>
<circle cx="349.80" cy="84.40" r="2.4" fill="#000"/>
<circle cx="334.40" cy="89.30" r="2.4" fill="#000"/>
<circle cx="339.40" cy="89.30" r="2.4" fill="#000"/>
<circle cx="344.60" cy="89.30" r="2.4" fill="#000"/>
<line x1="317.8" y1="71.5" x2="359.0" y2="71.5" stroke="#111" stroke-width="0.9"/>
<path d="M378.90 34.25 L381.40 38.55 L376.40 38.55 Z" fill="#fff" stroke="#111" stroke-width="0.85" stroke-linejoin="round"/>
<path d="M374.50 37.35 L377.00 41.65 L372.00 41.65 Z" fill="#fff" stroke="#111" stroke-width="0.85" stroke-linejoin="round"/>
<path d="M383.30 37.35 L385.80 41.65 L380.80 41.65 Z" fill="#fff" stroke="#111" stroke-width="0.85" stroke-linejoin="round"/>
<path d="M371.50 42.65 L374.00 46.95 L369.00 46.95 Z" fill="#fff" stroke="#111" stroke-width="0.85" stroke-linejoin="round"/>
<path d="M378.10 42.65 L380.60 46.95 L375.60 46.95 Z" fill="#fff" stroke="#111" stroke-width="0.85" stroke-linejoin="round"/>
<path d="M383.60 42.65 L386.10 46.95 L381.10 46.95 Z" fill="#fff" stroke="#111" stroke-width="0.85" stroke-linejoin="round"/>
<path d="M380.80 48.15 L383.30 52.45 L378.30 52.45 Z" fill="#fff" stroke="#111" stroke-width="0.85" stroke-linejoin="round"/>
<path d="M370.90 49.65 L373.40 53.95 L368.40 53.95 Z" fill="#fff" stroke="#111" stroke-width="0.85" stroke-linejoin="round"/>
<path d="M376.60 50.15 L379.10 54.45 L374.10 54.45 Z" fill="#fff" stroke="#111" stroke-width="0.85" stroke-linejoin="round"/>
<path d="M386.00 51.15 L388.50 55.45 L383.50 55.45 Z" fill="#fff" stroke="#111" stroke-width="0.85" stroke-linejoin="round"/>
<path d="M370.50 54.85 L373.00 59.15 L368.00 59.15 Z" fill="#fff" stroke="#111" stroke-width="0.85" stroke-linejoin="round"/>
<path d="M376.90 54.85 L379.40 59.15 L374.40 59.15 Z" fill="#fff" stroke="#111" stroke-width="0.85" stroke-linejoin="round"/>
<path d="M383.80 55.65 L386.30 59.95 L381.30 59.95 Z" fill="#fff" stroke="#111" stroke-width="0.85" stroke-linejoin="round"/>
<path d="M380.10 59.65 L382.60 63.95 L377.60 63.95 Z" fill="#fff" stroke="#111" stroke-width="0.85" stroke-linejoin="round"/>
<line x1="361.2" y1="48.5" x2="395.0" y2="48.5" stroke="#111" stroke-width="0.9"/>
<path d="M407.70 38.85 L410.75 41.90 L407.70 44.95 L404.65 41.90 Z" fill="#000"/>
<path d="M407.70 49.15 L410.75 52.20 L407.70 55.25 L404.65 52.20 Z" fill="#000"/>
<path d="M407.70 56.15 L410.75 59.20 L407.70 62.25 L404.65 59.20 Z" fill="#000"/>
<path d="M408.00 61.75 L411.05 64.80 L408.00 67.85 L404.95 64.80 Z" fill="#000"/>
<path d="M413.70 60.55 L416.75 63.60 L413.70 66.65 L410.65 63.60 Z" fill="#000"/>
<path d="M404.70 65.45 L407.75 68.50 L404.70 71.55 L401.65 68.50 Z" fill="#000"/>
<path d="M411.30 65.45 L414.35 68.50 L411.30 71.55 L408.25 68.50 Z" fill="#000"/>
<path d="M416.20 66.75 L419.25 69.80 L416.20 72.85 L413.15 69.80 Z" fill="#000"/>
<path d="M408.80 69.55 L411.85 72.60 L408.80 75.65 L405.75 72.60 Z" fill="#000"/>
<path d="M408.00 77.25 L411.05 80.30 L408.00 83.35 L404.95 80.30 Z" fill="#000"/>
<path d="M408.00 86.05 L411.05 89.10 L408.00 92.15 L404.95 89.10 Z" fill="#000"/>
<path d="M404.70 94.15 L407.75 97.20 L404.70 100.25 L401.65 97.20 Z" fill="#000"/>
<path d="M411.40 94.15 L414.45 97.20 L411.40 100.25 L408.35 97.20 Z" fill="#000"/>
<line x1="394.5" y1="70.5" x2="423.5" y2="70.5" stroke="#111" stroke-width="0.9"/>
<rect x="278.5" y="125.5" width="149.0" height="116.0" stroke="#555" stroke-width="0.8" fill="none"/>
<line x1="278.5" y1="125.2" x2="278.5" y2="241.9" stroke="#666" stroke-width="1.3"/>
<line x1="279.0" y1="241.5" x2="427.3" y2="241.5" stroke="#222" stroke-width="1.0"/>
<line x1="276.8" y1="241.5" x2="279.0" y2="241.5" stroke="#222" stroke-width="0.8"/>
<text x="274.3" y="243.3" font-size="5.3" text-anchor="end" font-weight="bold" fill="#111">0</text>
<line x1="276.8" y1="231.5" x2="279.0" y2="231.5" stroke="#222" stroke-width="0.8"/>
<line x1="276.8" y1="221.5" x2="279.0" y2="221.5" stroke="#222" stroke-width="0.8"/>
<text x="274.3" y="223.5" font-size="5.3" text-anchor="end" font-weight="bold" fill="#111">100</text>
<line x1="276.8" y1="211.5" x2="279.0" y2="211.5" stroke="#222" stroke-width="0.8"/>
<line x1="276.8" y1="201.5" x2="279.0" y2="201.5" stroke="#222" stroke-width="0.8"/>
<text x="274.3" y="203.70000000000002" font-size="5.3" text-anchor="end" font-weight="bold" fill="#111">200</text>
<line x1="276.8" y1="192.5" x2="279.0" y2="192.5" stroke="#222" stroke-width="0.8"/>
<line x1="276.8" y1="182.5" x2="279.0" y2="182.5" stroke="#222" stroke-width="0.8"/>
<text x="274.3" y="183.9" font-size="5.3" text-anchor="end" font-weight="bold" fill="#111">300</text>
<line x1="276.8" y1="172.5" x2="279.0" y2="172.5" stroke="#222" stroke-width="0.8"/>
<line x1="276.8" y1="162.5" x2="279.0" y2="162.5" stroke="#222" stroke-width="0.8"/>
<text x="274.3" y="164.10000000000002" font-size="5.3" text-anchor="end" font-weight="bold" fill="#111">400</text>
<line x1="276.8" y1="152.5" x2="279.0" y2="152.5" stroke="#222" stroke-width="0.8"/>
<line x1="276.8" y1="142.5" x2="279.0" y2="142.5" stroke="#222" stroke-width="0.8"/>
<text x="274.3" y="144.3" font-size="5.3" text-anchor="end" font-weight="bold" fill="#111">500</text>
<text x="301.2" y="119.0" font-size="4.9" font-weight="bold" textLength="83.4" lengthAdjust="spacingAndGlyphs" fill="#222">Expression of MM in CD8+ T cells</text>
<text x="245.1" y="184.7" font-size="5.0" font-weight="bold" textLength="9.0" lengthAdjust="spacingAndGlyphs" fill="#111">MFI</text>
<text x="235.5" y="190.7" font-size="5.0" font-weight="bold" textLength="28.3" lengthAdjust="spacingAndGlyphs" fill="#111">Mitotracker</text>
<path d="M301.5 133.3 L301.5 131.5 L409.5 131.5 L409.5 133.3" fill="none" stroke="#333" stroke-width="1.0"/>
<circle cx="353.7" cy="128.3" r="0.85" fill="#222"/>
<circle cx="357.8" cy="128.3" r="0.85" fill="#222"/>
<path d="M332.5 144.3 L332.5 142.5 L370.5 142.5 L370.5 144.3" fill="none" stroke="#333" stroke-width="1.0"/>
<circle cx="350.5" cy="139.3" r="0.85" fill="#222"/>
<circle cx="355.4" cy="139.3" r="0.85" fill="#222"/>
<path d="M379.5 138.3 L379.5 136.5 L409.5 136.5 L409.5 138.3" fill="none" stroke="#333" stroke-width="1.0"/>
<circle cx="394.5" cy="134.0" r="0.85" fill="#222"/>
<path d="M301.5 158.3 L301.5 156.5 L336.5 156.5 L336.5 158.3" fill="none" stroke="#333" stroke-width="1.0"/>
<circle cx="317.0" cy="154.0" r="0.85" fill="#222"/>
<circle cx="321.1" cy="154.0" r="0.85" fill="#222"/>
<rect x="301.90" y="205.62" width="3.0" height="3.36" fill="#fff" stroke="#222" stroke-width="0.75"/>
<rect x="299.30" y="211.12" width="3.0" height="3.36" fill="#fff" stroke="#222" stroke-width="0.75"/>
<rect x="304.70" y="211.12" width="3.0" height="3.36" fill="#fff" stroke="#222" stroke-width="0.75"/>
<rect x="293.70" y="217.12" width="3.0" height="3.36" fill="#fff" stroke="#222" stroke-width="0.75"/>
<rect x="298.90" y="217.12" width="3.0" height="3.36" fill="#fff" stroke="#222" stroke-width="0.75"/>
<rect x="304.70" y="217.12" width="3.0" height="3.36" fill="#fff" stroke="#222" stroke-width="0.75"/>
<rect x="309.90" y="217.12" width="3.0" height="3.36" fill="#fff" stroke="#222" stroke-width="0.75"/>
<rect x="291.70" y="223.62" width="3.0" height="3.36" fill="#fff" stroke="#222" stroke-width="0.75"/>
<rect x="296.90" y="223.62" width="3.0" height="3.36" fill="#fff" stroke="#222" stroke-width="0.75"/>
<rect x="301.90" y="223.62" width="3.0" height="3.36" fill="#fff" stroke="#222" stroke-width="0.75"/>
<rect x="307.10" y="223.62" width="3.0" height="3.36" fill="#fff" stroke="#222" stroke-width="0.75"/>
<rect x="312.30" y="223.62" width="3.0" height="3.36" fill="#fff" stroke="#222" stroke-width="0.75"/>
<rect x="299.50" y="229.32" width="3.0" height="3.36" fill="#fff" stroke="#222" stroke-width="0.75"/>
<rect x="304.70" y="229.32" width="3.0" height="3.36" fill="#fff" stroke="#222" stroke-width="0.75"/>
<line x1="286.0" y1="220.5" x2="320.0" y2="220.5" stroke="#111" stroke-width="0.9"/>
<circle cx="336.90" cy="162.90" r="2.4" fill="#000"/>
<circle cx="336.90" cy="167.60" r="2.4" fill="#000"/>
<circle cx="336.90" cy="172.30" r="2.4" fill="#000"/>
<circle cx="336.90" cy="176.60" r="2.4" fill="#000"/>
<circle cx="336.90" cy="180.00" r="2.4" fill="#000"/>
<circle cx="332.50" cy="184.50" r="2.4" fill="#000"/>
<circle cx="336.60" cy="184.50" r="2.4" fill="#000"/>
<circle cx="340.70" cy="184.50" r="2.4" fill="#000"/>
<circle cx="332.50" cy="189.70" r="2.4" fill="#000"/>
<circle cx="336.60" cy="189.70" r="2.4" fill="#000"/>
<circle cx="340.70" cy="189.70" r="2.4" fill="#000"/>
<circle cx="325.50" cy="195.10" r="2.4" fill="#000"/>
<circle cx="330.20" cy="195.10" r="2.4" fill="#000"/>
<circle cx="334.90" cy="195.10" r="2.4" fill="#000"/>
<circle cx="339.60" cy="195.10" r="2.4" fill="#000"/>
<circle cx="343.80" cy="195.10" r="2.4" fill="#000"/>
<circle cx="347.90" cy="195.10" r="2.4" fill="#000"/>
<circle cx="321.40" cy="201.20" r="2.4" fill="#000"/>
<circle cx="325.80" cy="201.20" r="2.4" fill="#000"/>
<circle cx="330.20" cy="201.20" r="2.4" fill="#000"/>
<circle cx="334.60" cy="201.20" r="2.4" fill="#000"/>
<circle cx="339.00" cy="201.20" r="2.4" fill="#000"/>
<circle cx="343.40" cy="201.20" r="2.4" fill="#000"/>
<circle cx="347.80" cy="201.20" r="2.4" fill="#000"/>
<circle cx="352.20" cy="201.20" r="2.4" fill="#000"/>
<circle cx="323.00" cy="206.20" r="2.4" fill="#000"/>
<circle cx="327.50" cy="206.20" r="2.4" fill="#000"/>
<circle cx="332.00" cy="206.20" r="2.4" fill="#000"/>
<circle cx="336.50" cy="206.20" r="2.4" fill="#000"/>
<circle cx="341.00" cy="206.20" r="2.4" fill="#000"/>
<circle cx="345.50" cy="206.20" r="2.4" fill="#000"/>
<circle cx="350.00" cy="206.20" r="2.4" fill="#000"/>
<circle cx="325.50" cy="211.20" r="2.4" fill="#000"/>
<circle cx="330.00" cy="211.20" r="2.4" fill="#000"/>
<circle cx="334.50" cy="211.20" r="2.4" fill="#000"/>
<circle cx="339.00" cy="211.20" r="2.4" fill="#000"/>
<circle cx="343.50" cy="211.20" r="2.4" fill="#000"/>
<circle cx="348.00" cy="211.20" r="2.4" fill="#000"/>
<circle cx="332.00" cy="215.90" r="2.4" fill="#000"/>
<circle cx="336.50" cy="215.90" r="2.4" fill="#000"/>
<circle cx="341.00" cy="215.90" r="2.4" fill="#000"/>
<line x1="314.5" y1="199.5" x2="359.0" y2="199.5" stroke="#111" stroke-width="0.9"/>
<path d="M376.40 137.35 L378.90 141.65 L373.90 141.65 Z" fill="#fff" stroke="#111" stroke-width="0.85" stroke-linejoin="round"/>
<path d="M376.40 146.15 L378.90 150.45 L373.90 150.45 Z" fill="#fff" stroke="#111" stroke-width="0.85" stroke-linejoin="round"/>
<path d="M377.90 154.25 L380.40 158.55 L375.40 158.55 Z" fill="#fff" stroke="#111" stroke-width="0.85" stroke-linejoin="round"/>
<path d="M373.00 159.35 L375.50 163.65 L370.50 163.65 Z" fill="#fff" stroke="#111" stroke-width="0.85" stroke-linejoin="round"/>
<path d="M383.20 161.45 L385.70 165.75 L380.70 165.75 Z" fill="#fff" stroke="#111" stroke-width="0.85" stroke-linejoin="round"/>
<path d="M369.30 165.45 L371.80 169.75 L366.80 169.75 Z" fill="#fff" stroke="#111" stroke-width="0.85" stroke-linejoin="round"/>
<path d="M376.40 164.75 L378.90 169.05 L373.90 169.05 Z" fill="#fff" stroke="#111" stroke-width="0.85" stroke-linejoin="round"/>
<path d="M377.00 170.95 L379.50 175.25 L374.50 175.25 Z" fill="#fff" stroke="#111" stroke-width="0.85" stroke-linejoin="round"/>
<path d="M385.60 172.35 L388.10 176.65 L383.10 176.65 Z" fill="#fff" stroke="#111" stroke-width="0.85" stroke-linejoin="round"/>
<path d="M373.00 175.65 L375.50 179.95 L370.50 179.95 Z" fill="#fff" stroke="#111" stroke-width="0.85" stroke-linejoin="round"/>
<path d="M380.50 176.05 L383.00 180.35 L378.00 180.35 Z" fill="#fff" stroke="#111" stroke-width="0.85" stroke-linejoin="round"/>
<path d="M373.40 182.15 L375.90 186.45 L370.90 186.45 Z" fill="#fff" stroke="#111" stroke-width="0.85" stroke-linejoin="round"/>
<path d="M380.50 181.75 L383.00 186.05 L378.00 186.05 Z" fill="#fff" stroke="#111" stroke-width="0.85" stroke-linejoin="round"/>
<path d="M386.60 180.55 L389.10 184.85 L384.10 184.85 Z" fill="#fff" stroke="#111" stroke-width="0.85" stroke-linejoin="round"/>
<path d="M376.40 188.25 L378.90 192.55 L373.90 192.55 Z" fill="#fff" stroke="#111" stroke-width="0.85" stroke-linejoin="round"/>
<line x1="360.5" y1="169.5" x2="391.7" y2="169.5" stroke="#111" stroke-width="0.9"/>
<path d="M410.40 158.65 L413.45 161.70 L410.40 164.75 L407.35 161.70 Z" fill="#000"/>
<path d="M406.70 169.65 L409.75 172.70 L406.70 175.75 L403.65 172.70 Z" fill="#000"/>
<path d="M413.50 169.65 L416.55 172.70 L413.50 175.75 L410.45 172.70 Z" fill="#000"/>
<path d="M410.40 179.85 L413.45 182.90 L410.40 185.95 L407.35 182.90 Z" fill="#000"/>
<path d="M410.40 190.65 L413.45 193.70 L410.40 196.75 L407.35 193.70 Z" fill="#000"/>
<path d="M405.90 195.35 L408.95 198.40 L405.90 201.45 L402.85 198.40 Z" fill="#000"/>
<path d="M415.50 195.35 L418.55 198.40 L415.50 201.45 L412.45 198.40 Z" fill="#000"/>
<path d="M401.90 199.55 L404.95 202.60 L401.90 205.65 L398.85 202.60 Z" fill="#000"/>
<path d="M410.50 199.55 L413.55 202.60 L410.50 205.65 L407.45 202.60 Z" fill="#000"/>
<path d="M419.20 199.55 L422.25 202.60 L419.20 205.65 L416.15 202.60 Z" fill="#000"/>
<path d="M411.00 205.95 L414.05 209.00 L411.00 212.05 L407.95 209.00 Z" fill="#000"/>
<path d="M406.90 218.05 L409.95 221.10 L406.90 224.15 L403.85 221.10 Z" fill="#000"/>
<path d="M414.80 218.05 L417.85 221.10 L414.80 224.15 L411.75 221.10 Z" fill="#000"/>
<line x1="399.2" y1="193.5" x2="422.7" y2="193.5" stroke="#111" stroke-width="0.9"/>
<rect x="434.15" y="70.05" width="4.1" height="4.30" fill="#fff" stroke="#222" stroke-width="0.75"/>
<text x="441.4" y="68.6" font-size="4.9" font-weight="bold" textLength="57.5" lengthAdjust="spacingAndGlyphs" fill="#222">Total CD8<tspan dy="-1.5" font-size="3">+</tspan><tspan dy="1.5"> T cells from</tspan></text>
<text x="442.5" y="74.7" font-size="4.9" font-weight="bold" textLength="49.0" lengthAdjust="spacingAndGlyphs" fill="#222">uninfected controls</text>
<circle cx="436.80" cy="93.60" r="2.1" fill="#000"/>
<text x="441.4" y="91.6" font-size="4.9" font-weight="bold" textLength="57.5" lengthAdjust="spacingAndGlyphs" fill="#222">Total CD8<tspan dy="-1.5" font-size="3">+</tspan><tspan dy="1.5"> T cells from</tspan></text>
<text x="442.5" y="97.5" font-size="4.9" font-weight="bold" textLength="59.1" lengthAdjust="spacingAndGlyphs" fill="#222">HIV-infected individuals</text>
<path d="M436.80 119.75 L439.50 124.05 L434.10 124.05 Z" fill="#fff" stroke="#111" stroke-width="0.85" stroke-linejoin="round"/>
<text x="441.0" y="118.2" font-size="4.9" font-weight="bold" textLength="75.3" lengthAdjust="spacingAndGlyphs" fill="#222">HIV-specific CD8<tspan dy="-1.5" font-size="3">+</tspan><tspan dy="1.5"> T cells from</tspan></text>
<text x="441.0" y="124.7" font-size="4.9" font-weight="bold" textLength="59.7" lengthAdjust="spacingAndGlyphs" fill="#222">HIV-infected individuals</text>
<path d="M437.00 142.30 L439.80 145.10 L437.00 147.90 L434.20 145.10 Z" fill="#000"/>
<text x="441.4" y="141.8" font-size="4.9" font-weight="bold" textLength="78.6" lengthAdjust="spacingAndGlyphs" fill="#222">CMV-specific CD8<tspan dy="-1.5" font-size="3">+</tspan><tspan dy="1.5"> T cells from</tspan></text>
<text x="441.4" y="147.9" font-size="4.9" font-weight="bold" textLength="59.3" lengthAdjust="spacingAndGlyphs" fill="#222">HIV-infected individuals</text>
<circle cx="451.0" cy="175.8" r="0.85" fill="#222"/>
<text x="457.6" y="179.0" font-size="5.0" font-weight="bold" fill="#111" font-style="italic">P</text>
<text x="461.9" y="179.0" font-size="5.0" font-weight="bold" fill="#111">&lt;</text>
<text x="466.3" y="179.0" font-size="5.0" font-weight="bold" textLength="10.4" lengthAdjust="spacingAndGlyphs" fill="#111">.005</text>
<circle cx="446.1" cy="185.0" r="0.85" fill="#222"/>
<circle cx="451.0" cy="185.0" r="0.85" fill="#222"/>
<text x="457.6" y="188.1" font-size="5.0" font-weight="bold" fill="#111" font-style="italic">P</text>
<text x="461.9" y="188.1" font-size="5.0" font-weight="bold" fill="#111">&lt;</text>
<text x="466.3" y="188.1" font-size="5.0" font-weight="bold" textLength="10.4" lengthAdjust="spacingAndGlyphs" fill="#111">.001</text>
</svg>
</body></html>
